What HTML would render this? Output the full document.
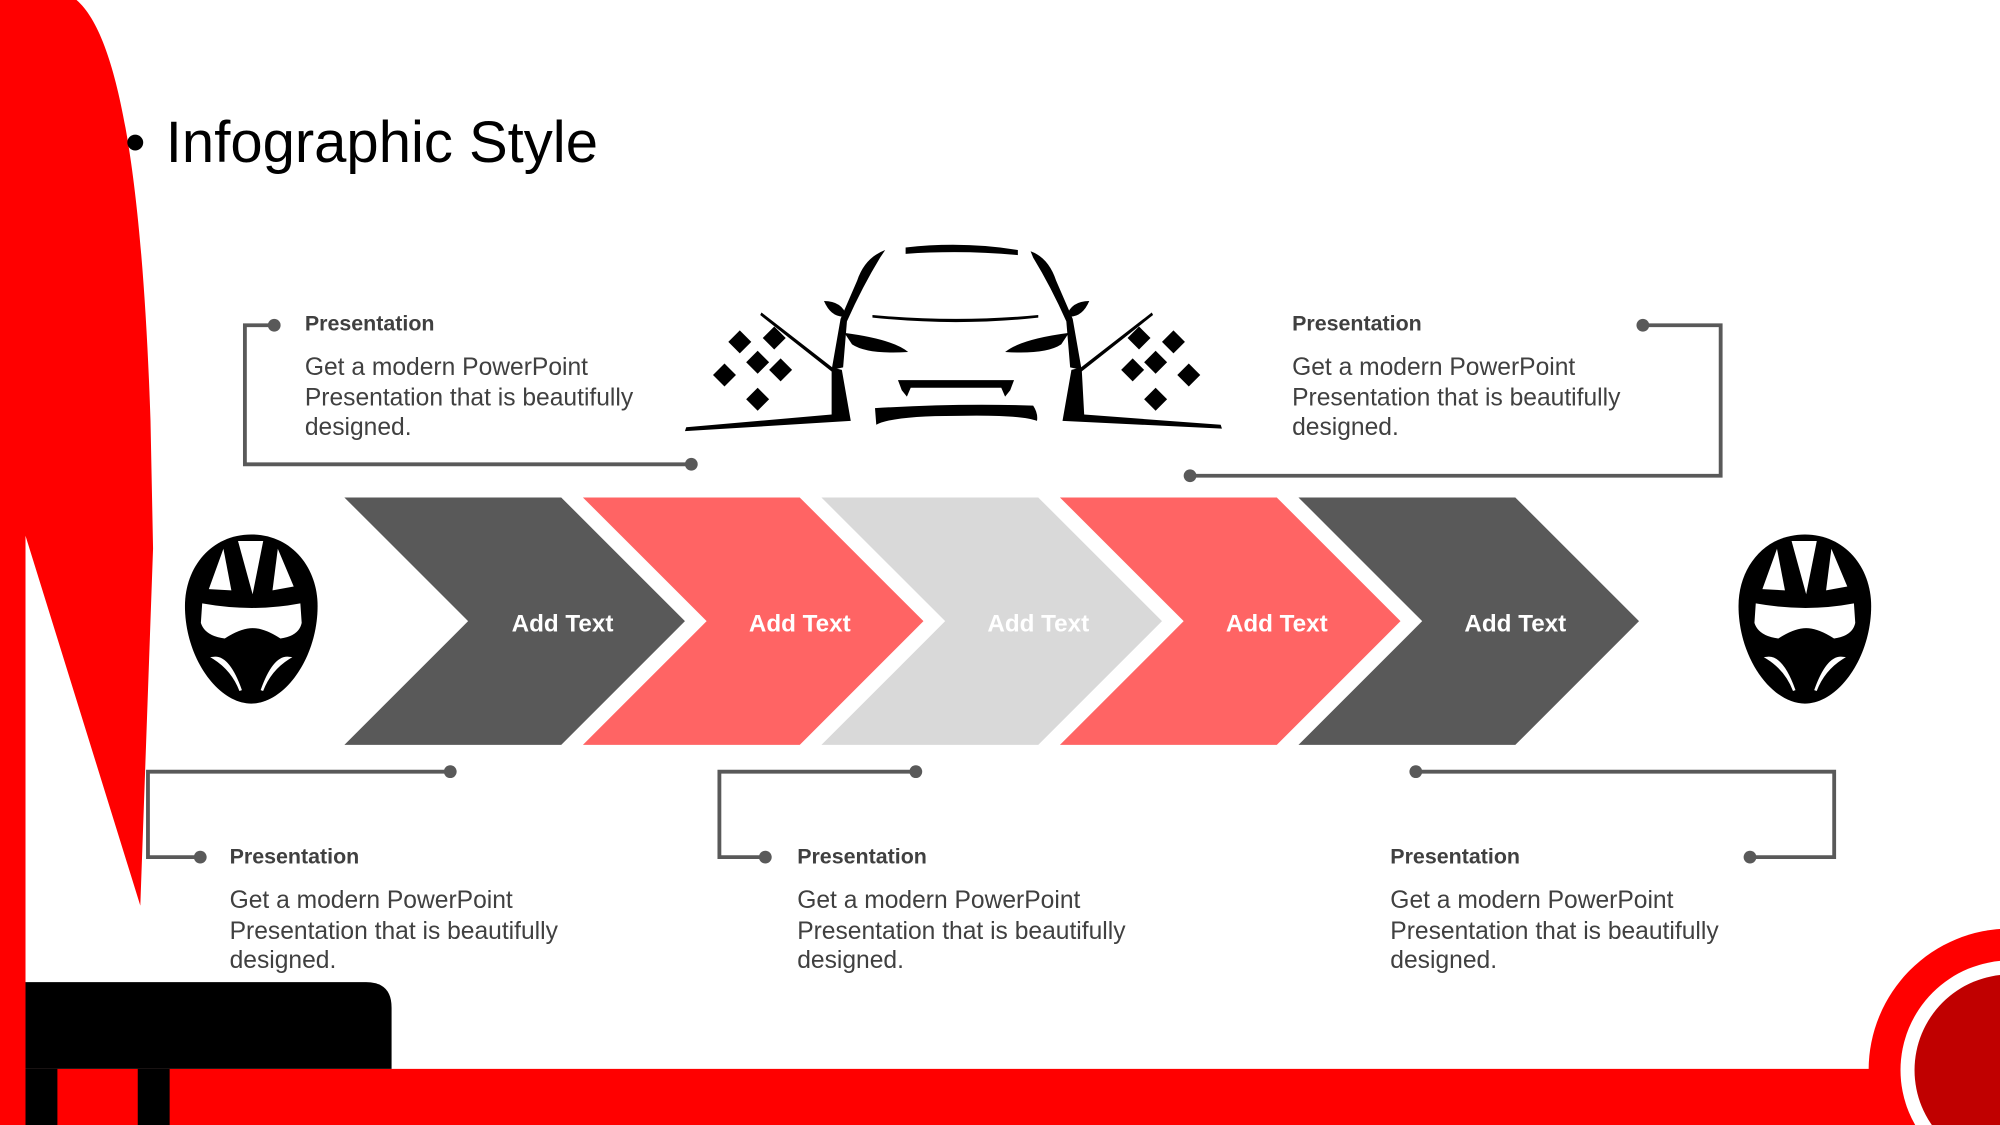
<!DOCTYPE html>
<html><head><meta charset="utf-8"><style>
html,body{margin:0;padding:0;background:#fff;overflow:hidden;width:2000px;height:1125px}
svg{display:block}
text{font-family:"Liberation Sans",Arial,sans-serif}
</style></head><body>
<svg width="2000" height="1125" viewBox="0 0 1568 882" xmlns="http://www.w3.org/2000/svg">
<defs>
<g id="helmet">
<path d="M50,0 C80,0 100,25 100,55 C100,95 75,130 50,130 C25,130 0,95 0,55 C0,25 20,0 50,0 Z" fill="#000"/>
<polygon points="18,42 29,11 35,43" fill="#fff"/>
<polygon points="40,5 59,5 51,46" fill="#fff"/>
<polygon points="70,11 82,40 66,43" fill="#fff"/>
<path d="M13,53 Q51,60 87,53 L88,68 Q86,78 72,80 Q60,72 51,72 Q42,72 30,80 Q15,78 12,68 Z" fill="#fff"/>
<path d="M22,95 Q33,94 42,120 Q36,104 22,95 Z" fill="#fff" stroke="#fff" stroke-width="2"/>
<path d="M78,95 Q67,94 58,120 Q64,104 78,95 Z" fill="#fff" stroke="#fff" stroke-width="2"/>
</g>
<path id="dm" d="M0,-9 L9,0 L0,9 L-9,0 Z"/>
</defs>

<path d="M0,0 L60,0 C95,30 112,150 118,330 L120,430 L110,710 L20,420 L20,882 L0,882 Z" fill="#ff0000"/>
<rect x="0" y="838" width="1568" height="44" fill="#ff0000"/>
<path d="M20,770 L287,770 Q307,770 307,790 L307,838 L20,838 Z" fill="#000"/>
<rect x="20" y="838" width="25" height="44" fill="#000"/>
<rect x="108" y="838" width="25" height="44" fill="#000"/>
<circle cx="1576" cy="839" r="111" fill="#ff0000"/>
<circle cx="1576" cy="839" r="86" fill="#fff"/>
<circle cx="1576" cy="839" r="75" fill="#c00000"/>

<text x="98" y="127" font-size="46" fill="#000">•</text>
<text x="130" y="127" font-size="45.5" fill="#000">Infographic Style</text>

<g>
<polygon points="270,390 440,390 537,487 440,584 270,584 367,487" fill="#595959"/>
<polygon points="457,390 627,390 724,487 627,584 457,584 554,487" fill="#ff6464"/>
<polygon points="644,390 814,390 911,487 814,584 644,584 741,487" fill="#d9d9d9"/>
<polygon points="831,390 1001,390 1098,487 1001,584 831,584 928,487" fill="#ff6464"/>
<polygon points="1018,390 1188,390 1285,487 1188,584 1018,584 1115,487" fill="#595959"/>
</g>
<g font-size="19" font-weight="bold" fill="#fff" text-anchor="middle">
<text x="441" y="495">Add Text</text>
<text x="627" y="495">Add Text</text>
<text x="814" y="495">Add Text</text>
<text x="1001" y="495">Add Text</text>
<text x="1188" y="495">Add Text</text>
</g>

<use href="#helmet" transform="translate(145,419) scale(1.04,1.02)"/>
<use href="#helmet" transform="translate(1363,419) scale(1.04,1.02)"/>

<g fill="none" stroke="#595959" stroke-width="3">
<polyline points="215,255 192,255 192,364 542,364"/>
<polyline points="1288,255 1349,255 1349,373 933,373"/>
<polyline points="353,605 116,605 116,672 157,672"/>
<polyline points="718,605 564,605 564,672 600,672"/>
<polyline points="1110,605 1438,605 1438,672 1372,672"/>
</g>
<g fill="#595959">
<circle cx="215" cy="255" r="5"/><circle cx="542" cy="364" r="5"/>
<circle cx="1288" cy="255" r="5"/><circle cx="933" cy="373" r="5"/>
<circle cx="353" cy="605" r="5"/><circle cx="157" cy="672" r="5"/>
<circle cx="718" cy="605" r="5"/><circle cx="600" cy="672" r="5"/>
<circle cx="1110" cy="605" r="5"/><circle cx="1372" cy="672" r="5"/>
</g>

<g fill="#404040">
<g transform="translate(239,0)">
<text y="259" font-size="16.8" font-weight="bold">Presentation</text>
<text y="294" font-size="19.3">Get a modern PowerPoint</text>
<text y="318" font-size="19.3">Presentation that is beautifully</text>
<text y="341" font-size="19.3">designed.</text>
</g>
<g transform="translate(1013,0)">
<text y="259" font-size="16.8" font-weight="bold">Presentation</text>
<text y="294" font-size="19.3">Get a modern PowerPoint</text>
<text y="318" font-size="19.3">Presentation that is beautifully</text>
<text y="341" font-size="19.3">designed.</text>
</g>
<g transform="translate(180,0)">
<text y="677" font-size="16.8" font-weight="bold">Presentation</text>
<text y="712" font-size="19.3">Get a modern PowerPoint</text>
<text y="736" font-size="19.3">Presentation that is beautifully</text>
<text y="759" font-size="19.3">designed.</text>
</g>
<g transform="translate(625,0)">
<text y="677" font-size="16.8" font-weight="bold">Presentation</text>
<text y="712" font-size="19.3">Get a modern PowerPoint</text>
<text y="736" font-size="19.3">Presentation that is beautifully</text>
<text y="759" font-size="19.3">designed.</text>
</g>
<g transform="translate(1090,0)">
<text y="677" font-size="16.8" font-weight="bold">Presentation</text>
<text y="712" font-size="19.3">Get a modern PowerPoint</text>
<text y="736" font-size="19.3">Presentation that is beautifully</text>
<text y="759" font-size="19.3">designed.</text>
</g>
</g>

<g fill="#000">
<path d="M710,194 Q755,189 798,196 L798,200 Q755,196 710,199 Z"/>
<path d="M694,196 Q678,202 672,220 L659,250 L652,290 L661,288 L664,252 Q676,225 690,202 Z"/>
<path d="M808,197 Q822,202 828,220 L841,250 L848,290 L839,288 L836,252 Q824,225 810,202 Z"/>
<path d="M646,236 Q660,236 664,248 Q652,250 646,236 Z"/>
<path d="M854,236 Q840,236 836,248 Q848,250 854,236 Z"/>
<path d="M684,247 Q750,253 814,247 L814,249 Q750,256 684,249 Z"/>
<path d="M662,261 Q700,266 712,276 Q680,278 668,270 Z"/>
<path d="M838,261 Q800,266 788,276 Q820,278 832,270 Z"/>
<path d="M704,298 L795,298 L792,306 L788,311 L785,304 L714,304 L711,311 L707,306 Z"/>
<path d="M686,320 Q750,316 810,318 Q814,324 813,330 Q800,325 750,326 Q700,326 687,333 Z"/>
<path d="M652,288 L660,290 L667,330 L537,338 L538,335 L652,325 Z"/>
<path d="M848,288 L840,290 L833,330 L958,336 L957,333 L850,325 Z"/>
<path d="M597,245 L655,290 L653,292 L596,247 Z"/>
<path d="M903,245 L845,290 L847,292 L904,247 Z"/>
<use href="#dm" x="580" y="268"/>
<use href="#dm" x="607" y="265"/>
<use href="#dm" x="594" y="284"/>
<use href="#dm" x="612" y="290"/>
<use href="#dm" x="568" y="294"/>
<use href="#dm" x="594" y="313"/>
<use href="#dm" x="920" y="268"/>
<use href="#dm" x="893" y="265"/>
<use href="#dm" x="906" y="284"/>
<use href="#dm" x="888" y="290"/>
<use href="#dm" x="932" y="294"/>
<use href="#dm" x="906" y="313"/>
</g>
</svg>
</body></html>
